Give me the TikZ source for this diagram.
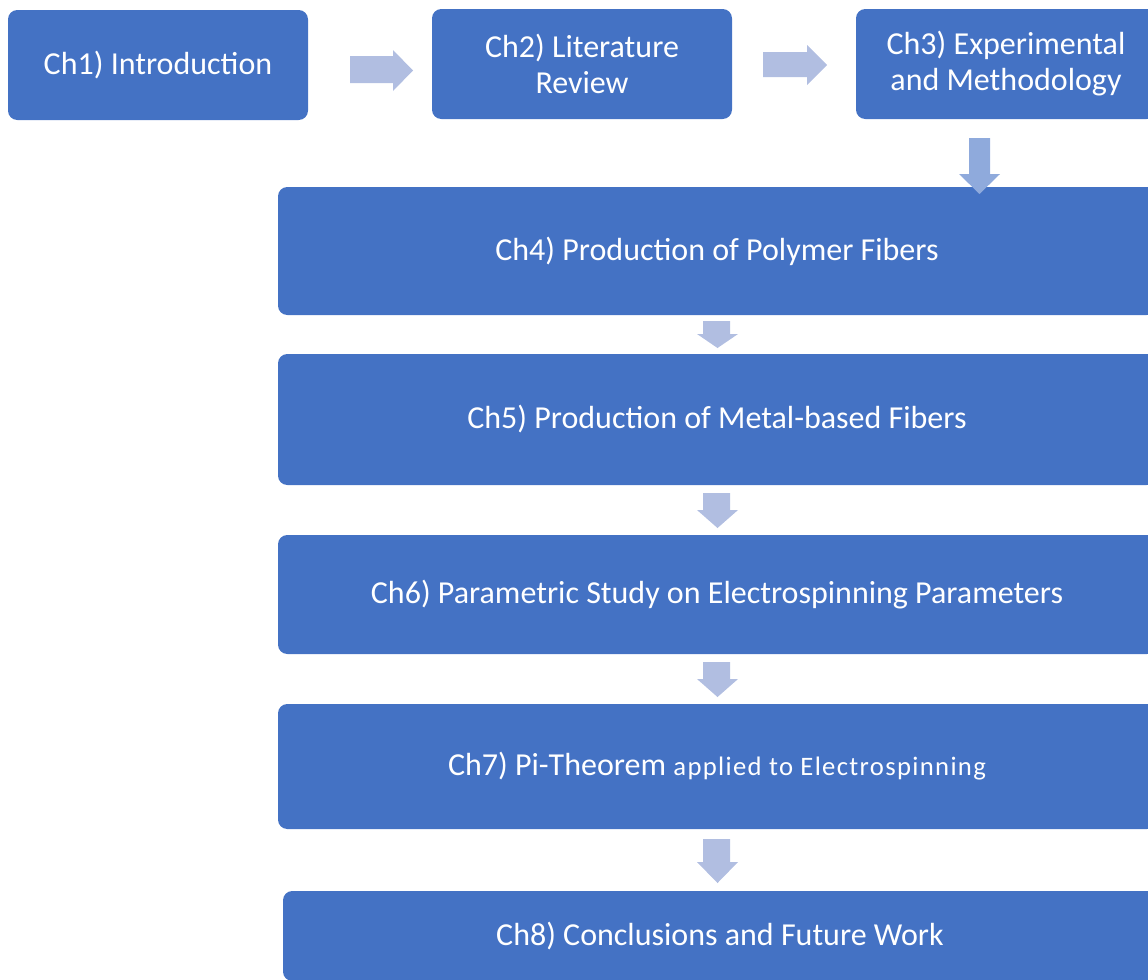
\documentclass[tikz,border=0pt]{standalone}
\usepackage{fontspec}
\setmainfont{Carlito}

\definecolor{chblue}{HTML}{4472C4}
\definecolor{arrowlight}{HTML}{B1BEE1}
\definecolor{arrowdark}{HTML}{8FAADC}

\tikzset{
  chbox/.style={fill=chblue, rounded corners=7pt, inner sep=0pt, text=white,
    align=center, font=\fontsize{24}{27}\selectfont},
}

\begin{document}
\begin{tikzpicture}[x=0.75pt,y=-0.75pt]
  \clip (0,0) rectangle (1148,979);

  % top row
  \node[chbox, minimum width=225pt, minimum height=82.5pt] (ch1) at (158,65) {Ch1) Introduction};
  \node[chbox, minimum width=225pt, minimum height=82.5pt] (ch2) at (582,64) {Ch2) Literature\\Review};
  \node[chbox, minimum width=225pt, minimum height=82.5pt] (ch3) at (1006,64) {Ch3) Experimental\\and Methodology};

  % wide column
  \node[chbox, minimum width=658.5pt, minimum height=96pt]    (ch4) at (717,251)   {Ch4) Production of Polymer Fibers};
  \node[chbox, minimum width=658.5pt, minimum height=98.25pt] (ch5) at (717,419.5) {Ch5) Production of Metal-based Fibers};
  \node[chbox, minimum width=658.5pt, minimum height=89.25pt] (ch6) at (717,594.5) {Ch6) Parametric Study on Electrospinning Parameters};
  \node[chbox, minimum width=658.5pt, minimum height=93.75pt] (ch7) at (717,766.5)
    {Ch7) Pi-Theorem {\fontsize{20}{22}\selectfont\addfontfeature{LetterSpace=5}applied to Electrospinning}};
  \node[chbox, minimum width=655.5pt, minimum height=67.5pt]  (ch8) at (720,936)   {Ch8) Conclusions and Future Work};

  % block arrows between the chapters
  \fill[arrowlight] (350,56) -- (393,56) -- (393,50) -- (413,70.5) -- (393,91) -- (393,83) -- (350,83) -- cycle;
  \fill[arrowlight] (763,52) -- (807,52) -- (807,45) -- (827,65) -- (807,85) -- (807,77) -- (763,77) -- cycle;
  \fill[arrowdark] (969,138) -- (990,138) -- (990,174) -- (1000,174) -- (979.5,194) -- (959,174) -- (969,174) -- cycle;
  \foreach \top/\mid/\tip in {321/334/348, 493/510/528, 662/679/697, 839/862/883}
    \fill[arrowlight] (703,\top) -- (730,\top) -- (730,\mid) -- (738,\mid) -- (717.5,\tip) -- (697,\mid) -- (703,\mid) -- cycle;
\end{tikzpicture}
\end{document}
